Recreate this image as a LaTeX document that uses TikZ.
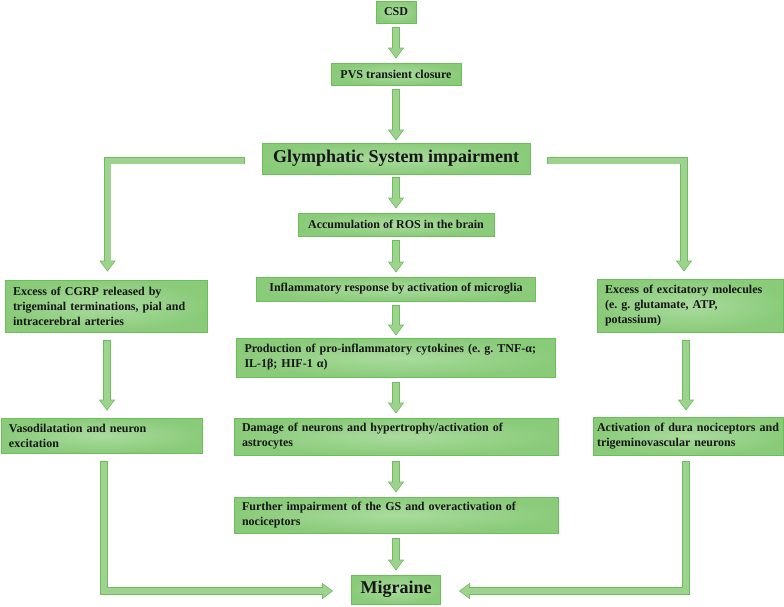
\documentclass[tikz,border=0pt]{standalone}
\usepackage{fontspec}
\setmainfont{Liberation Serif}
\usepackage{tikz}
\usetikzlibrary{arrows.meta,calc,positioning}

\definecolor{boxedge}{HTML}{6BBF5A}
\definecolor{boxdark}{HTML}{8ACB7A}
\definecolor{boxlight}{HTML}{AADB9E}
\definecolor{arrfill}{HTML}{9DD38F}
\definecolor{txt}{HTML}{151515}

\tikzset{
  box/.style={draw=boxedge, line width=0.8pt, inner color=boxlight, outer color=boxdark,
    text=txt, font=\bfseries\frenchspacing\fontsize{12}{15}\selectfont, inner xsep=8pt, inner ysep=0pt},
  lbox/.style={box, align=left},
  big/.style={font=\bfseries\fontsize{18}{22}\selectfont},
  flowout/.style={line width=7.6pt, draw=boxedge, line join=miter,
    -{Triangle[width=15.6pt,length=11pt]}},
  flowin/.style={line width=6pt, draw=arrfill, line join=miter,
    -{Triangle[width=13pt,length=9pt]}, shorten >=1.3pt, shorten <=0.8pt},
}
\newcommand\flow[1]{\draw[flowout] #1; \draw[flowin] #1;}

\begin{document}
\begin{tikzpicture}[x=1pt,y=-1pt]
    \useasboundingbox (0,0) rectangle (784,606);

    % middle column
    \node[box, minimum width=40pt, minimum height=22pt] (csd) at (396,12) {CSD};
    \node[box, minimum width=130pt, minimum height=22pt] (pvs) at (396,74) {PVS transient closure};
    \node[box, big, minimum width=268pt, minimum height=31pt] (gsi) at (396,158.5) {Glymphatic System impairment};
    \node[box, minimum width=196pt, minimum height=23pt] (ros) at (396,224.5) {Accumulation of ROS in the brain};
    \node[box, minimum width=279pt, minimum height=24pt] (infl) at (396,289) {Inflammatory response by activation of microglia};
    \node[lbox, text width=303pt, minimum height=39pt] (prod) at (396,357.5)
        {Production of pro-inflammatory cytokines (e. g. TNF-α;\\IL-1β; HIF-1 α)};
    \node[lbox, text width=308pt, minimum height=37pt] (dmg) at (396,436.5)
        {Damage of neurons and hypertrophy/activation of\\astrocytes};
    \node[lbox, text width=308pt, minimum height=36pt] (furth) at (396,515)
        {Further impairment of the GS and overactivation of\\nociceptors};
    \node[box, big, minimum width=89pt, minimum height=29pt] (mig) at (396,589.5) {Migraine};

    % side columns
    \node[lbox, text width=186pt, minimum height=52pt] (cgrp) at (106,306)
        {Excess of CGRP released by\\trigeminal terminations, pial and\\intracerebral arteries};
    \node[lbox, text width=185pt, minimum height=35pt] (vaso) at (101.5,435.5)
        {Vasodilatation and neuron\\excitation};
    \node[lbox, text width=170pt, minimum height=53pt] (exc) at (690,305.5)
        {Excess of excitatory molecules\\(e. g. glutamate, ATP,\\potassium)};
    \node[lbox, inner xsep=4pt, text width=182pt, minimum height=38pt] (act) at (688,436)
        {Activation of dura nociceptors and\\trigeminovascular neurons};

    % arrows down the middle
    \flow{($(csd.south)+(0,4)$) -- ($(pvs.north)+(0,-4)$)}
    \flow{($(pvs.south)+(0,4)$) -- ($(gsi.north)+(0,-2)$)}
    \flow{($(gsi.south)+(0,3)$) -- ($(ros.north)+(0,-4)$)}
    \flow{($(ros.south)+(0,4)$) -- ($(infl.north)+(0,-4)$)}
    \flow{($(infl.south)+(0,4)$) -- ($(prod.north)+(0,-2)$)}
    \flow{($(prod.south)+(0,5)$) -- ($(dmg.north)+(0,-4)$)}
    \flow{($(dmg.south)+(0,6)$) -- ($(furth.north)+(0,-4)$)}
    \flow{($(furth.south)+(0,5)$) -- ($(mig.north)+(0,-4)$)}

    % branches
    \flow{($(gsi.west)+(-17,2)$) -| ($(cgrp.north)+(1.5,-8)$)}
    \flow{($(gsi.east)+(17,2)$) -| ($(exc.north)+(-6,-7)$)}
    \flow{($(cgrp.south)+(1,8)$) -- ($(vaso.north)+(5.5,-7)$)}
    \flow{($(exc.south)+(-4,8)$) -- ($(act.north)+(-2,-6)$)}
    \flow{($(vaso.south)+(2.5,8)$) |- ($(mig.west)+(-18,1.5)$)}
    \flow{($(act.south)+(-2,6)$) |- ($(mig.east)+(18,1.5)$)}
\end{tikzpicture}
\end{document}
